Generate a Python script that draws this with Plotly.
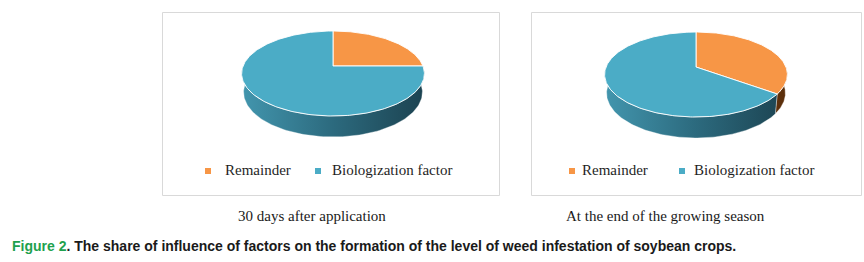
import numpy as np
import plotly.graph_objects as go

# ---------------- data ----------------
categories = ["Remainder", "Biologization factor"]
panel_titles = ["30 days after application", "At the end of the growing season"]
remainder_share = [25, 35]
biologization_share = [75, 65]
caption_label = "Figure 2"
caption_text = ". The share of influence of factors on the formation of the level of weed infestation of soybean crops."

# ---------------- style ----------------
TOP_COLORS = ["#F79646", "#4BACC6"]
SIDE_SCALES = [
    [[0, "#a65a1c"], [1, "#5a2e0b"]],
    [[0, "#4295ad"], [0.5, "#2c6a7e"], [1, "#1c4351"]],
]
SERIF = "Liberation Serif"
SANS = "Liberation Sans"
W, H_PX = 864, 262

# pie geometry (layout): centres in px, perspective projection parameters
CENTERS = [(333, 66), (696, 67)]
F, D, SIN, COS, DEPTH = 453.5, 5.04, 0.4575, 0.889, 0.235
RX = 90


def project(cx, cy, theta, bottom=False):
    X = np.cos(theta)
    Z = np.sin(theta)
    yh = -DEPTH if bottom else 0.0
    v = Z * SIN + yh * COS
    w = Z * COS - yh * SIN
    return cx + F * X / (D + w), cy - F * v / (D + w)


fig = go.Figure()

for p, (rem, bio) in enumerate(zip(remainder_share, biologization_share)):
    cx, cy = CENTERS[p]
    vals = [rem, bio]
    total = sum(vals)
    # slice angle intervals (start at 12 o'clock, clockwise)
    bounds = []
    a = np.pi / 2
    for v in vals:
        a1 = a - 2 * np.pi * v / total
        bounds.append((a, a1))
        a = a1
    # sides (front half only)
    for i, (a0, a1) in enumerate(bounds):
        hi = min(a0, 0.0)
        lo = max(a1, -np.pi)
        if hi <= lo:
            continue
        t = np.linspace(hi, lo, 120)
        xt, yt = project(cx, cy, t)
        xb, yb = project(cx, cy, t[::-1], bottom=True)
        xs = np.concatenate([xt, xb, xt[:1]])
        ys = np.concatenate([yt, yb, yt[:1]])
        fig.add_trace(go.Scatter(
            x=xs, y=ys, mode="lines", fill="toself",
            line=dict(width=0.6, color="rgba(255,255,255,0.6)"),
            fillgradient=dict(type="horizontal", colorscale=SIDE_SCALES[i],
                              start=cx - RX, stop=cx + RX),
            hoverinfo="skip", showlegend=False))
    # top faces
    for i, (a0, a1) in enumerate(bounds):
        t = np.linspace(a0, a1, 240)
        xa, ya = project(cx, cy, t)
        xs = np.concatenate([[cx], xa, [cx]])
        ys = np.concatenate([[cy], ya, [cy]])
        fig.add_trace(go.Scatter(
            x=xs, y=ys, mode="lines", fill="toself",
            fillcolor=TOP_COLORS[i],
            line=dict(width=1, color="rgba(255,255,255,0.9)"),
            name=categories[i], hoverinfo="name", showlegend=False))

shapes = []
annotations = []
BOXES = [(162.5, 12.5, 499.5, 195.5), (531.5, 12.5, 861.5, 195.5)]
for b in BOXES:
    shapes.append(dict(type="rect", x0=b[0], y0=b[1], x1=b[2], y1=b[3],
                       line=dict(color="#d9d9d9", width=1), layer="below"))

# legends (layout positions)
LEG = [[(208, 223), (318, 330)], [(572, 580), (682, 692)]]
for p in range(2):
    for i, (mx, tx) in enumerate(LEG[p]):
        shapes.append(dict(type="rect", x0=mx - 3, x1=mx + 3, y0=168, y1=174,
                           fillcolor=TOP_COLORS[i], line=dict(width=0)))
        annotations.append(dict(x=tx, y=170, text=categories[i], showarrow=False,
                                xanchor="left", yanchor="middle",
                                font=dict(family=SERIF, size=15, color="#1f1f1f")))

TITLE_X = [312, 665]
for p in range(2):
    annotations.append(dict(x=TITLE_X[p], y=216, text=panel_titles[p], showarrow=False,
                            xanchor="center", yanchor="middle",
                            font=dict(family=SERIF, size=15, color="#1a1a1a")))

annotations.append(dict(
    x=10, y=246, showarrow=False, xanchor="left", yanchor="middle",
    text=f"<b><span style='color:#1ea14e'>{caption_label}</span>{caption_text}</b>",
    font=dict(family=SANS, size=14, color="#1a1a1a")))

fig.update_layout(
    width=W, height=H_PX, margin=dict(l=0, r=0, t=0, b=0),
    paper_bgcolor="white", plot_bgcolor="white",
    xaxis=dict(range=[0, W], visible=False, fixedrange=True, domain=[0, 1]),
    yaxis=dict(range=[H_PX, 0], visible=False, fixedrange=True, domain=[0, 1]),
    shapes=shapes, annotations=annotations, showlegend=False,
)

fig.write_html("out.html")
